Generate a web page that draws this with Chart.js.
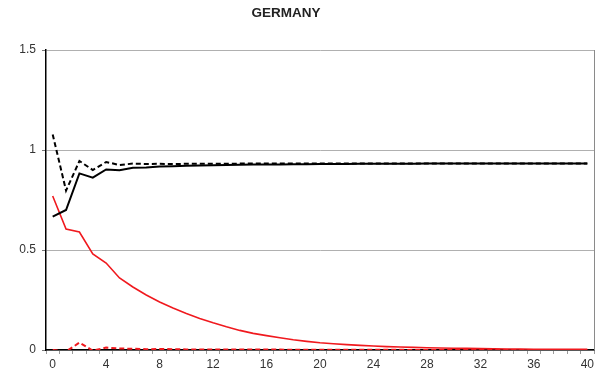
<!DOCTYPE html>
<html>
<head>
<meta charset="utf-8">
<script src="https://cdn.jsdelivr.net/npm/chart.js@4/dist/chart.umd.min.js"></script>
<style>
  html, body { margin: 0; padding: 0; background: #fff; }
  #wrap { width: 607px; height: 380px; position: relative; }
</style>
</head>
<body>
<div id="wrap"><canvas id="c" width="607" height="380"></canvas></div>
<script>
// Horizon (quarters after the shock)
const categories = ['0','1','2','3','4','5','6','7','8','9','10','11','12','13','14','15','16','17','18','19','20',
  '21','22','23','24','25','26','27','28','29','30','31','32','33','34','35','36','37','38','39','40'];

// Response paths
const blackSolid = [0.667, 0.700, 0.883, 0.862, 0.903, 0.899, 0.911, 0.913, 0.917, 0.919, 0.921,
  0.923, 0.924, 0.925, 0.926, 0.927, 0.928, 0.928, 0.929, 0.929, 0.930,
  0.930, 0.930, 0.931, 0.931, 0.931, 0.931, 0.931, 0.932, 0.932, 0.932,
  0.932, 0.932, 0.932, 0.932, 0.932, 0.932, 0.932, 0.932, 0.932, 0.932];

const blackDashed = [1.078, 0.797, 0.945, 0.900, 0.940, 0.925, 0.932, 0.930, 0.931, 0.930, 0.931,
  0.931, 0.931, 0.931, 0.932, 0.932, 0.932, 0.932, 0.932, 0.932, 0.932,
  0.932, 0.932, 0.932, 0.932, 0.932, 0.932, 0.932, 0.932, 0.932, 0.932,
  0.932, 0.932, 0.932, 0.932, 0.932, 0.932, 0.932, 0.932, 0.932, 0.932];

const redSolid = [0.770, 0.605, 0.590, 0.480, 0.435, 0.360, 0.315, 0.275, 0.240, 0.210, 0.183,
  0.158, 0.136, 0.116, 0.098, 0.083, 0.072, 0.061, 0.051, 0.043, 0.036,
  0.031, 0.027, 0.023, 0.020, 0.017, 0.015, 0.013, 0.011, 0.010, 0.009,
  0.008, 0.007, 0.006, 0.005, 0.005, 0.004, 0.004, 0.003, 0.003, 0.003];

const redDashed = [0.000, -0.008, 0.037, -0.003, 0.012, 0.008, 0.006, 0.004, 0.005, 0.004, 0.003,
  0.003, 0.003, 0.002, 0.002, 0.002, 0.002, 0.002, 0.001, 0.001, 0.001,
  0.001, 0.001, 0.001, 0.001, 0.001, 0.001, 0.000, 0.000, 0.000, 0.000,
  0.000, 0.000, 0.000, 0.000, 0.000, 0.000, 0.000, 0.000, 0.000, 0.000];

const yTicks = [0, 0.5, 1, 1.5];
const chartTitle = 'GERMANY';

const RED = '#f0191e';
const FONT = "'Liberation Sans', Arial, sans-serif";

// Title and right-hand frame edge
const decor = {
  id: 'decor',
  beforeDatasetsDraw(chart) {
    const { ctx, chartArea } = chart;
    ctx.save();
    ctx.strokeStyle = '#8a8a8a';
    ctx.lineWidth = 1;
    ctx.beginPath();
    ctx.moveTo(Math.round(chartArea.right) + 0.5, chartArea.top);
    ctx.lineTo(Math.round(chartArea.right) + 0.5, chartArea.bottom);
    ctx.stroke();
    ctx.restore();
  },
  afterDraw(chart) {
    const { ctx } = chart;
    ctx.save();
    ctx.font = 'bold 13.5px ' + FONT;
    ctx.fillStyle = '#222';
    ctx.textAlign = 'center';
    ctx.textBaseline = 'middle';
    ctx.fillText(chartTitle, 286, 13);
    ctx.restore();
  }
};

const line = (data, color, width, dash) => ({
  data, borderColor: color, borderWidth: width, borderDash: dash,
  pointRadius: 0, pointHoverRadius: 0, tension: 0, fill: false
});

new Chart(document.getElementById('c'), {
  type: 'line',
  data: {
    labels: categories,
    datasets: [
      line(blackDashed, '#000', 2, [5, 3]),
      line(blackSolid, '#000', 2, []),
      line(redDashed, RED, 2, [5, 3]),
      line(redSolid, RED, 1.6, [])
    ]
  },
  options: {
    responsive: false,
    animation: false,
    events: [],
    layout: { padding: { left: 0, right: 13, top: 50, bottom: 0 } },
    plugins: { legend: { display: false }, tooltip: { enabled: false }, title: { display: false } },
    scales: {
      x: {
        offset: true,
        grid: { offset: true, drawOnChartArea: false, drawTicks: true, tickLength: 4, color: '#9a9a9a' },
        border: { color: '#000', width: 1.5 },
        ticks: {
          autoSkip: false, maxRotation: 0, minRotation: 0, padding: 3,
          color: '#333', font: { family: FONT, size: 12 },
          callback: (v, i) => (i % 4 === 0 ? categories[i] : '')
        },
        afterFit: (s) => { s.height = 30; }
      },
      y: {
        min: 0, max: 1.5,
        afterBuildTicks: (s) => { s.ticks = yTicks.map(v => ({ value: v })); },
        grid: { color: '#b0b0b0', lineWidth: 1, tickLength: 4, tickColor: '#777' },
        border: { color: '#000', width: 1.5 },
        ticks: {
          padding: 6, color: '#333', font: { family: FONT, size: 12 },
          callback: (v) => String(v)
        },
        afterFit: (s) => { s.width = 46; }
      }
    }
  },
  plugins: [decor]
});
</script>
</body>
</html>
